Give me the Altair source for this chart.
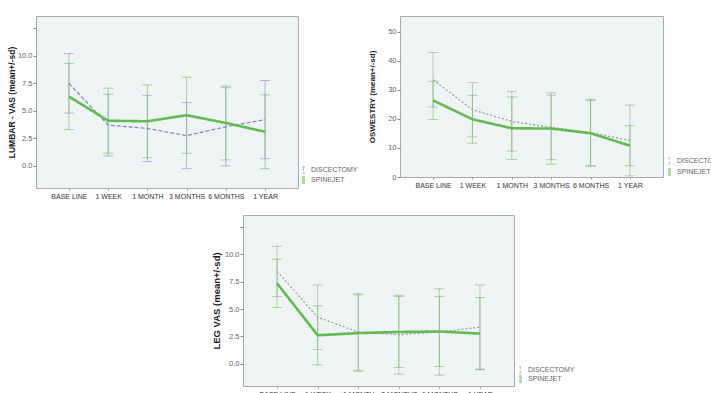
import altair as alt
import pandas as pd

# Follow-up time points and treatment groups
TIMES = ["BASE LINE", "1 WEEK", "1 MONTH", "3 MONTHS", "6 MONTHS", "1 YEAR"]
GROUPS = ["DISCECTOMY", "SPINEJET"]

# Lumbar VAS (mean and sd)
lumbar_disc_mean = [7.5, 3.7, 3.4, 2.75, 3.55, 4.2]
lumbar_disc_sd = [2.7, 2.8, 3.0, 3.0, 3.55, 3.55]
lumbar_spine_mean = [6.3, 4.1, 4.05, 4.6, 3.9, 3.1]
lumbar_spine_sd = [3.0, 2.95, 3.3, 3.45, 3.35, 3.35]

# Oswestry disability index (mean and sd)
odi_disc_mean = [33.5, 23.2, 19.2, 17.1, 15.3, 12.6]
odi_disc_sd = [9.4, 9.35, 10.3, 11.1, 11.5, 12.2]
odi_spine_mean = [26.4, 19.9, 16.8, 16.7, 15.1, 10.8]
odi_spine_sd = [6.6, 8.25, 10.8, 12.3, 11.3, 6.9]

# Leg VAS (mean and sd)
leg_disc_mean = [8.45, 4.25, 2.9, 2.65, 2.9, 3.35]
leg_disc_sd = [2.3, 2.95, 3.5, 3.6, 3.95, 3.85]
leg_spine_mean = [7.35, 2.6, 2.8, 2.9, 2.95, 2.75]
leg_spine_sd = [2.2, 2.7, 3.5, 3.25, 3.2, 3.3]

FONT = "Liberation Sans"
GREEN = "#62bb4e"
IBEAM = "M0,-1L0,1M-0.45,-1L0.45,-1M-0.45,1L0.45,1"


def table(disc_mean, disc_sd, spine_mean, spine_sd):
    rows = []
    for grp, means, sds in ((GROUPS[0], disc_mean, disc_sd), (GROUPS[1], spine_mean, spine_sd)):
        for t, m, s in zip(TIMES, means, sds):
            rows.append({"time": t, "group": grp, "mean": m, "lo": m - s, "hi": m + s})
    return pd.DataFrame(rows)


def panel(df, title, domain, values, label_expr, width, height, disc_color, disc_dash,
          title_size, title_pad, legend_x, legend_y, row_pad):
    x = alt.X("time:N", sort=TIMES, scale=alt.Scale(type="point", padding=0.84),
              axis=alt.Axis(title=None, labelAngle=0, labelFont=FONT, labelFontSize=7,
                            labelColor="#333", tickSize=2, tickColor="#999",
                            labelPadding=2, domain=False))
    yscale = alt.Scale(domain=domain, nice=False, zero=False)
    yaxis = alt.Axis(values=values, labelExpr=label_expr, title=title, titleFont=FONT,
                     titleFontWeight="bold", titleFontSize=title_size, titleColor="#1a1a1a",
                     titlePadding=title_pad, labelFont=FONT, labelFontSize=7.5,
                     labelColor="#666", tickSize=3, tickColor="#888", labelPadding=1,
                     domain=False, grid=False)
    legend = alt.Legend(title=None, orient="none", legendX=legend_x, legendY=legend_y,
                        symbolType=IBEAM, symbolSize=40, labelFont=FONT,
                        labelFontSize=7, labelColor="#666", padding=0, rowPadding=row_pad,
                        clipHeight=8, labelOffset=3)
    color = alt.Color("group:N", scale=alt.Scale(domain=GROUPS, range=[disc_color, GREEN]),
                      legend=legend)
    dash = alt.StrokeDash("group:N", scale=alt.Scale(domain=GROUPS, range=[disc_dash, [1, 0]]),
                          legend=legend)
    swidth = alt.StrokeWidth("group:N", scale=alt.Scale(domain=GROUPS, range=[1.2, 2.6]),
                             legend=legend)

    base = alt.Chart(df)
    whisker = base.mark_rule(opacity=0.55, strokeWidth=1).encode(
        x=x, y=alt.Y("lo:Q", scale=yscale, axis=yaxis), y2="hi:Q", color=color)
    caps = base.transform_fold(["lo", "hi"], as_=["edge", "val"]).mark_tick(
        opacity=0.55, thickness=1, size=10).encode(
        x=x, y=alt.Y("val:Q", scale=yscale, axis=yaxis), color=color)
    line = base.mark_line().encode(
        x=x, y=alt.Y("mean:Q", scale=yscale, axis=yaxis), color=color,
        strokeDash=dash, strokeWidth=swidth)
    return alt.layer(whisker, caps, line).properties(
        width=width, height=height,
        view=alt.ViewBackground(fill="#eef3f3", stroke="#a9a9a9", strokeWidth=1))


vas_labels = "datum.value > 11 ? '' : format(datum.value, '.1f')"
vas_ticks = [0, 2.5, 5, 7.5, 10, 12.5]

lumbar = panel(table(lumbar_disc_mean, lumbar_disc_sd, lumbar_spine_mean, lumbar_spine_sd),
               "LUMBAR - VAS (mean+/-sd)", [-2.0, 13.6], vas_ticks, vas_labels,
               262, 172, "#7f86bd", [4, 2], 8.5, 1, 263, 150, 2)
odi = panel(table(odi_disc_mean, odi_disc_sd, odi_spine_mean, odi_spine_sd),
            "OSWESTRY (mean+/-sd)", [0, 55.5], [0, 10, 20, 30, 40, 50],
            "format(datum.value, 'd')", 263, 161, "#9a9a9a", [2, 2], 8, 11, 265, 141, 3)
leg = panel(table(leg_disc_mean, leg_disc_sd, leg_spine_mean, leg_spine_sd),
            "LEG VAS (mean+/-sd)", [-2.04, 13.6], vas_ticks, vas_labels,
            271, 171, "#9a9a9a", [2, 2], 9.5, 3, 273, 151, 1)

# empty column that pushes the leg panel towards the middle
gap = alt.Chart(pd.DataFrame({"v": [0]})).mark_point(opacity=0).encode(
    x=alt.X("v:Q", axis=None), y=alt.Y("v:Q", axis=None)).properties(
    width=207, height=171, view=alt.ViewBackground(stroke="transparent"))

indep = dict(color="independent", strokeDash="independent", strokeWidth="independent")
top = alt.hconcat(lumbar, odi, spacing=102, bounds="flush").resolve_scale(**indep)
bottom = alt.hconcat(gap, leg, spacing=0, bounds="flush").resolve_scale(**indep)

chart = alt.vconcat(top, bottom, spacing=14).resolve_scale(**indep).properties(
    autosize=alt.AutoSizeParams(type="none"),
    padding={"left": 36, "top": 16, "right": 675, "bottom": 377},
    background="white",
).configure_view(strokeWidth=0)

chart.save("out.html", embed_options={"renderer": "svg", "actions": False})
